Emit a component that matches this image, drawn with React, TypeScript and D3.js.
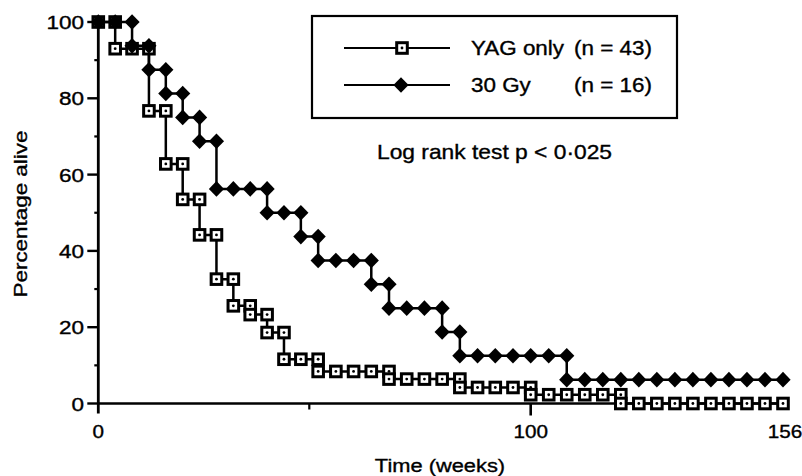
import React from "react";
import * as d3 from "d3";

// Time grid (weeks) at which the survival values were plotted
const weeks = [0, 4, 8, 12, 16, 20, 24, 28, 32, 36, 40, 44, 48, 52, 56, 60, 64, 68, 72, 76,
  80, 84, 88, 92, 96, 100, 104, 108, 112, 116, 120, 124, 128, 132, 136, 140, 144, 148, 152, 156];

// YAG only (n = 43) — percentage alive
const yagValues = [100, 93, 93, 76.7, 62.8, 53.5, 44.2, 32.6, 25.6, 23.3, 18.6, 11.6, 11.6,
  8.4, 8.4, 8.4, 8.4, 6.4, 6.4, 6.4, 6.4, 4.2, 4.2, 4.2, 4.2,
  2.3, 2.3, 2.3, 2.3, 2.3, 0, 0, 0, 0, 0, 0, 0, 0, 0, 0];

// 30 Gy (n = 16) — percentage alive
const gyValues = [100, 100, 93.75, 87.5, 81.25, 75, 68.75, 56.25, 56.25, 56.25, 50, 50, 43.75,
  37.5, 37.5, 37.5, 31.25, 25, 25, 25, 18.75, 12.5, 12.5, 12.5, 12.5, 12.5, 12.5,
  6.25, 6.25, 6.25, 6.25, 6.25, 6.25, 6.25, 6.25, 6.25, 6.25, 6.25, 6.25, 6.25];

const yTickMajor = [0, 20, 40, 60, 80, 100];
const yTickMinor = [10, 30, 50, 70, 90];
const xTickLabels = [0, 100, 156];
const xTickMinor = [50];

const legendItems = [
  { label: "YAG only", n: "(n = 43)", kind: "square" },
  { label: "30 Gy", n: "(n = 16)", kind: "diamond" },
];
const noteText = "Log rank test p < 0·025";
const xTitle = "Time (weeks)";
const yTitle = "Percentage alive";

const FONT = "'Liberation Sans', Arial, Helvetica, sans-serif";

const x = d3.scaleLinear().domain([0, 50, 100, 156]).range([98.3, 309.3, 530.7, 783]);
const y = d3.scaleLinear().domain([0, 100]).range([403.5, 22]);

type Pt = { t: number; v: number };

function markerPoints(vals: number[]): Pt[] {
  const pts: Pt[] = [];
  vals.forEach((v, i) => {
    if (i > 0 && vals[i - 1] !== v) pts.push({ t: weeks[i], v: vals[i - 1] });
    pts.push({ t: weeks[i], v });
  });
  return pts;
}

const stepLine = d3
  .line<number>()
  .x((_, i) => x(weeks[i]))
  .y((d) => y(d))
  .curve(d3.curveStepAfter);

function Square({ cx, cy }: { cx: number; cy: number }) {
  return (
    <g transform={`translate(${cx},${cy})`}>
      <rect x={-5.3} y={-5.3} width={10.6} height={10.6} fill="#fff" stroke="#000" strokeWidth={3} />
      <circle r={1.4} fill="#000" />
    </g>
  );
}

function Diamond({ cx, cy }: { cx: number; cy: number }) {
  return <path transform={`translate(${cx},${cy})`} d="M0,-7.8L7.6,0L0,7.8L-7.6,0Z" fill="#000" />;
}

function SText({ x: tx, y: ty, anchor = "start", size, sx = 1, rotate = 0, children }: any) {
  return (
    <text
      transform={`translate(${tx},${ty}) rotate(${rotate}) scale(${sx},1)`}
      textAnchor={anchor}
      fontSize={size}
      fontFamily={FONT}
      fill="#000"
      stroke="#000"
      strokeWidth={0.35}
    >
      {children}
    </text>
  );
}

export default function App() {
  const yagMarks = markerPoints(yagValues);
  const gyMarks = markerPoints(gyValues);
  const x0 = x(0);
  const yb = y(0);
  return (
    <svg
      width={802}
      height={476}
      style={{ position: "absolute", left: 0, top: 0, background: "#fff" }}
    >
      <rect width={802} height={476} fill="#fff" />
      {/* axes */}
      <line x1={x0} x2={x0} y1={y(100) - 1} y2={yb + 10} stroke="#000" strokeWidth={2.8} />
      <line x1={x0} x2={x(156)} y1={yb} y2={yb} stroke="#000" strokeWidth={2.4} />
      {yTickMajor.map((t) => (
        <line key={"ym" + t} x1={x0 - 11} x2={x0} y1={y(t)} y2={y(t)} stroke="#000" strokeWidth={2.4} />
      ))}
      {yTickMinor.map((t) => (
        <line key={"yn" + t} x1={x0 - 4} x2={x0} y1={y(t)} y2={y(t)} stroke="#000" strokeWidth={2.2} />
      ))}
      {xTickLabels
        .filter((t) => t === 100)
        .map((t) => (
          <line key={"xm" + t} x1={x(t)} x2={x(t)} y1={yb} y2={yb + 12} stroke="#000" strokeWidth={2.6} />
        ))}
      {xTickMinor.map((t) => (
        <line key={"xn" + t} x1={x(t)} x2={x(t)} y1={yb} y2={yb + 6} stroke="#000" strokeWidth={2.2} />
      ))}
      {yTickMajor.map((t) => (
        <SText key={"yl" + t} x={84} y={y(t) + 7} anchor="end" size={18} sx={1.25}>
          {t}
        </SText>
      ))}
      {xTickLabels.map((t) => (
        <SText key={"xl" + t} x={x(t) + (t === 156 ? 2 : 0)} y={438} anchor="middle" size={18} sx={1.15}>
          {t}
        </SText>
      ))}
      <SText x={440} y={472} anchor="middle" size={19} sx={1.15}>
        {xTitle}
      </SText>
      <SText x={27} y={214} anchor="middle" size={19} sx={1.18} rotate={-90}>
        {yTitle}
      </SText>

      {/* survival curves */}
      <path d={stepLine(yagValues) || ""} fill="none" stroke="#000" strokeWidth={2.5} />
      <path d={stepLine(gyValues) || ""} fill="none" stroke="#000" strokeWidth={2.5} />
      {yagMarks.map((p, i) => (
        <Square key={"s" + i} cx={x(p.t)} cy={y(p.v)} />
      ))}
      {gyMarks.map((p, i) => (
        <Diamond key={"d" + i} cx={x(p.t)} cy={y(p.v)} />
      ))}

      {/* legend */}
      <rect x={312} y={16} width={365} height={102} fill="#fff" stroke="#000" strokeWidth={2.2} />
      {legendItems.map((it, i) => {
        const ly = 48 + i * 37;
        return (
          <g key={it.label}>
            <line x1={344} x2={450} y1={ly} y2={ly} stroke="#000" strokeWidth={2.2} />
            {it.kind === "square" ? <Square cx={402} cy={ly} /> : <Diamond cx={401} cy={ly} />}
            <SText x={471} y={ly + 7} size={19.5} sx={1.15}>
              {it.label}
            </SText>
            <SText x={574} y={ly + 7} size={19.5} sx={1.15}>
              {it.n}
            </SText>
          </g>
        );
      })}
      <SText x={377} y={159} size={20} sx={1.14}>
        {noteText}
      </SText>
    </svg>
  );
}
